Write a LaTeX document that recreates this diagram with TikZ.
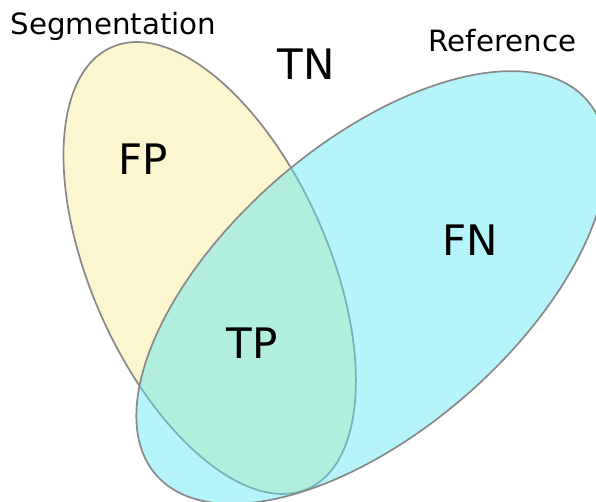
\documentclass[tikz,border=0pt]{standalone}
\usepackage{fontspec}
\setmainfont{DejaVu Sans}
\definecolor{segyellow}{RGB}{251,246,205}
\definecolor{refcyan}{RGB}{90,230,244}
\definecolor{edgegray}{RGB}{136,136,136}
\tikzset{
  outline/.style={draw=edgegray, line width=1.7pt},
  setlabel/.style={inner sep=0pt, anchor=base, font=\fontsize{29.3}{35}\selectfont},
  arealabel/.style={inner sep=0pt, anchor=base, font=\fontsize{42}{50}\selectfont}
}
\begin{document}
\begin{tikzpicture}[x=1pt,y=1pt]
\useasboundingbox (0,0) rectangle (596,501);
\clip (0,0) rectangle (596,501);
% Segmentation ellipse (yellow)
\coordinate (segc) at (209.7,233);
\fill[segyellow, rotate around={-66:(segc)}] (segc) ellipse [x radius=241.6pt, y radius=118.5pt];
\draw[outline, rotate around={-66:(segc)}] (segc) ellipse [x radius=241.6pt, y radius=118.5pt];
% Reference ellipse (cyan, translucent)
\coordinate (refc) at (371.5,213.5);
\fill[refcyan, fill opacity=0.45, rotate around={41:(refc)}] (refc) ellipse [x radius=285.5pt, y radius=143.4pt];
\draw[outline, rotate around={41:(refc)}] (refc) ellipse [x radius=285.5pt, y radius=143.4pt];
% labels
\node[setlabel] (seg) at (113.5,466) {Segmentation};
\node[setlabel] (ref) at (502.5,449) {Reference};
\node[arealabel] (tn) at (306.5,421) {TN};
\node[arealabel] (fp) at (143.5,326) {FP};
\node[arealabel] (tp) at (252,143) {TP};
\node[arealabel] (fn) at (470.5,246) {FN};
\end{tikzpicture}
\end{document}
